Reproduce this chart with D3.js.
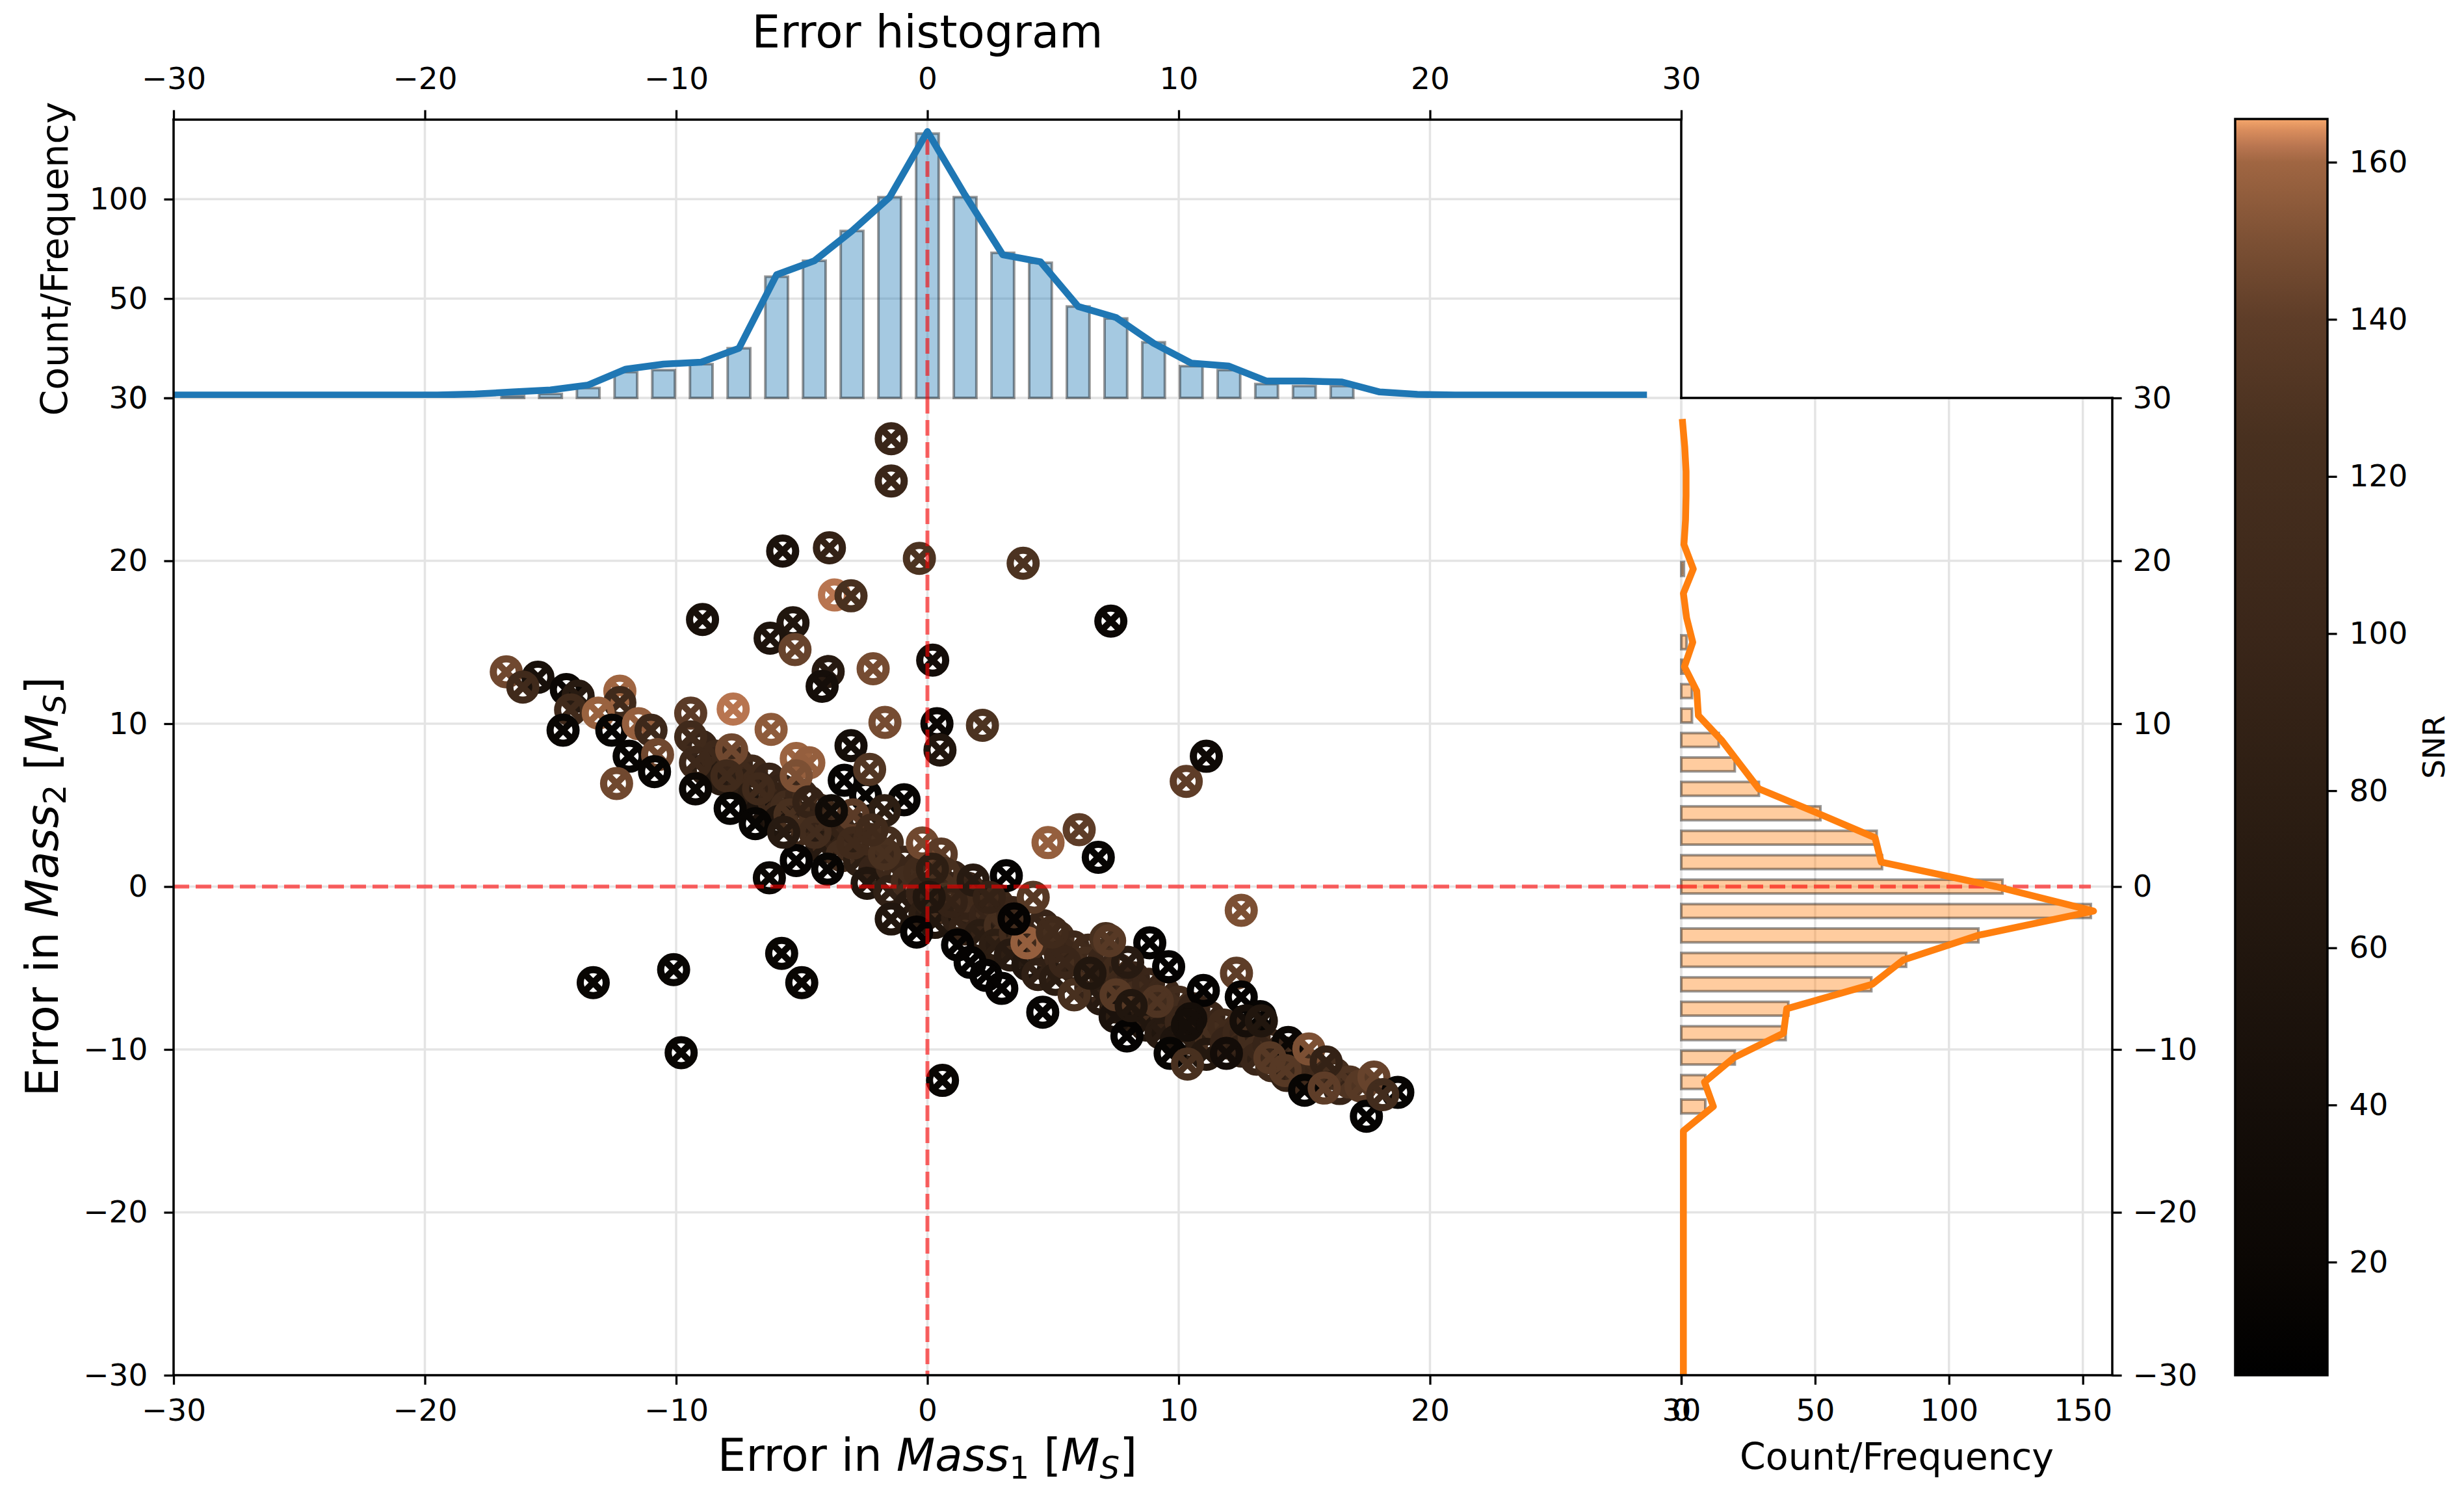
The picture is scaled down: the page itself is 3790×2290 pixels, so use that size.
<!DOCTYPE html>
<html>
<head>
<meta charset="utf-8">
<script src="https://cdn.jsdelivr.net/npm/d3@7"></script>
<style>
  body { margin: 0; background: #fff; }
  svg { display: block; font-family: "DejaVu Sans", sans-serif; }
</style>
</head>
<body>
<svg id="chart"></svg>
<script>
// histogram bins (left edges, width 1.5)
const binStarts = [-30, -28.5, -27, -25.5, -24, -22.5, -21, -19.5, -18, -16.5, -15, -13.5, -12, -10.5, -9, -7.5,
  -6, -4.5, -3, -1.5, 0, 1.5, 3, 4.5, 6, 7.5, 9, 10.5, 12, 13.5, 15, 16.5, 18, 19.5, 21, 22.5, 24, 25.5, 27, 28.5];

// error in Mass1 histogram (top)
const mass1Bars = [0, 0, 0, 0, 0, 0, 0, 0, 0, 1, 2, 5, 13, 14, 17, 25,
  61, 69, 84, 101, 133, 101, 73, 68, 46, 40, 28, 16, 14, 7, 6, 6, 0, 0, 0, 0, 0, 0, 0, 0];
const mass1Line = [1.5, 1.5, 1.5, 1.5, 1.5, 1.5, 1.5, 1.5, 2, 3, 4, 6.5, 14.5, 17, 18, 25,
  62, 69, 84, 101, 134, 102, 72, 68.5, 46, 40.5, 27.5, 17.5, 16, 8.5, 8.5, 8, 3, 1.8, 1.5, 1.5, 1.5, 1.5, 1.5, 1.5];

// error in Mass2 histogram (right)
const mass2Bars = [0, 0, 0, 0, 0, 0, 0, 0, 0, 0, 0, 9, 9, 20, 39, 40,
  71, 84, 111, 153, 120, 75, 73, 52, 29, 20, 14, 4, 4, 1, 2, 0, 0, 1, 0, 0, 0, 0, 0, 0];
const mass2Line = [0.8, 0.8, 0.8, 0.8, 0.8, 0.8, 0.8, 0.8, 0.8, 0.8, 0.8, 12, 8.7, 19.7, 38.2, 39.4,
  71.3, 83, 110.7, 154, 117.6, 74.7, 72.4, 51, 29, 22, 15, 6.4, 5.8, 1.2, 4.3, 2, 0.8, 4.5, 1, 1.6, 1.8, 1.8, 1.3, 0.5];

// scatter points: [error Mass1, error Mass2, SNR]
const bandCore = [
  [-9.0, 8.6, 95], [-8.8, 7.2, 80], [-8.4, 8.0, 105], [-8.2, 6.6, 70], [-7.6, 7.6, 100], [-7.3, 6.2, 85],
  [-7.0, 7.1, 110], [-6.9, 5.6, 75], [-6.6, 4.6, 50], [-6.3, 6.6, 95], [-6.1, 5.2, 105],
  [-5.8, 5.9, 90], [-5.6, 4.9, 115], [-5.9, 4.0, 60], [-5.0, 5.6, 100], [-4.9, 4.2, 85], [-4.8, 3.0, 110],
  [-4.3, 4.7, 120], [-4.1, 3.6, 95], [-4.2, 2.4, 70], [-3.6, 4.2, 105], [-3.5, 3.0, 90], [-3.4, 1.9, 115],
  [-2.9, 3.6, 100], [-2.7, 1.6, 80], [-2.3, 2.9, 110], [-2.1, 1.0, 95], [-2.4, 0.2, 60],
  [-1.6, 2.7, 120], [-1.4, 1.2, 105], [-1.5, -0.3, 85], [-0.9, 1.5, 100], [-0.8, 0.3, 115], [-0.7, -1.2, 70],
  [-0.3, 0.9, 110], [-0.2, -0.4, 95], [-0.1, -1.7, 80], [0.4, 0.2, 105], [0.5, -1.3, 120], [0.3, -2.2, 60],
  [1.0, 0.6, 95], [1.1, -0.5, 110], [1.2, -1.9, 85], [1.6, -0.1, 100], [1.7, -1.2, 115], [1.5, -2.6, 90],
  [2.2, -0.6, 110], [2.3, -1.8, 95], [2.1, -3.0, 75], [2.8, -1.1, 105], [2.9, -2.4, 120], [2.7, -3.6, 80],
  [3.4, -1.6, 100], [3.5, -2.9, 110], [3.3, -4.2, 70], [4.0, -2.2, 115], [4.1, -3.5, 95], [4.0, -4.8, 60],
  [4.6, -2.4, 95], [4.6, -3.9, 110], [4.4, -5.4, 85], [5.2, -3.1, 120], [5.3, -4.3, 100], [5.1, -5.7, 75],
  [5.8, -3.7, 105], [5.9, -5.0, 90], [6.4, -3.9, 110], [6.5, -6.2, 95], [6.3, -4.7, 120],
  [7.0, -4.6, 100], [7.1, -5.8, 85], [6.9, -6.9, 70], [7.6, -5.1, 110], [7.7, -6.2, 105], [7.5, -7.4, 80],
  [8.2, -5.6, 95], [8.3, -6.8, 115], [8.1, -8.0, 75], [8.8, -6.0, 100], [8.9, -7.3, 110], [8.7, -8.5, 60],
  [9.4, -6.5, 105], [9.5, -7.8, 90], [9.3, -9.0, 70], [10.0, -7.1, 115], [10.1, -8.3, 100], [9.9, -9.5, 55],
  [10.6, -7.5, 95], [10.7, -8.9, 110], [10.5, -9.8, 80], [11.2, -8.0, 100], [11.3, -9.3, 120], [11.1, -10.3, 65],
  [11.8, -8.5, 110], [11.9, -9.6, 95], [12.4, -9.0, 105], [12.5, -10.1, 85], [13.0, -9.2, 115], [13.1, -10.6, 100],
  [13.6, -9.7, 95], [13.7, -11.0, 110], [14.2, -10.2, 100], [14.3, -11.6, 90], [14.8, -10.8, 120], [14.9, -11.8, 105],
  [15.4, -11.3, 110], [16.2, -11.5, 120], [16.4, -12.4, 95], [16.8, -12.0, 130]
];

const bandEdge = [
  [-16.76, 13.18, 146], [-15.5, 12.85, 45], [-16.1, 12.25, 110], [-14.37, 12.1, 20], [-13.9, 11.7, 70],
  [-14.2, 10.85, 110], [-14.5, 9.6, 18], [-12.24, 12.0, 160], [-12.24, 11.3, 110], [-13.1, 10.65, 158],
  [-12.56, 9.6, 15], [-11.5, 10.0, 157], [-11.0, 9.6, 105], [-11.87, 8.0, 15], [-10.74, 8.1, 146],
  [-10.86, 7.06, 15], [-9.42, 10.65, 138], [-9.42, 9.19, 110], [-9.23, 7.6, 105], [-9.23, 6.0, 20],
  [-7.79, 8.39, 146], [-7.98, 6.8, 110], [-7.85, 4.8, 15], [-6.85, 3.86, 15], [-6.72, 6.0, 110],
  [-5.22, 7.86, 159], [-4.72, 7.6, 157], [-5.22, 6.8, 150], [-5.47, 4.4, 125], [-4.72, 5.2, 90],
  [-5.22, 1.6, 12], [-3.97, 1.07, 15], [-3.31, 6.53, 12], [-2.46, 5.6, 15], [-0.93, 5.33, 15],
  [-1.71, 4.66, 80], [-2.96, 4.4, 138], [-1.71, 2.0, 125], [-2.96, 2.67, 110], [-0.2, 2.67, 146],
  [0.55, 2.0, 138], [0.67, 0.8, 125], [-4.47, 3.33, 115], [-5.72, 3.33, 70], [-2.21, 3.47, 110],
  [-3.82, 4.66, 30], [0.2, 1.07, 80], [3.14, 0.67, 12], [4.21, -0.66, 135], [-1.44, -1.99, 60],
  [-0.43, -2.79, 12], [0.95, -0.93, 90], [1.2, -3.58, 12], [1.7, -4.65, 12], [2.33, -5.45, 12],
  [2.96, -6.25, 12], [3.96, -3.45, 157], [3.45, -1.99, 12], [1.82, 0.4, 70], [7.1, -3.19, 125],
  [8.85, -3.45, 12], [9.6, -4.92, 12], [12.3, -5.32, 140], [12.49, -6.78, 12], [10.98, -6.38, 12],
  [13.24, -7.98, 15], [10.48, -8.11, 40], [7.47, -7.98, 50], [5.84, -6.65, 125], [5.47, -4.65, 100],
  [6.47, -5.32, 60], [7.97, -4.65, 70], [4.97, -2.79, 110], [2.46, -0.66, 90], [0.07, -0.66, 60],
  [10.35, -8.51, 40], [7.94, -9.17, 12], [7.51, -6.65, 135], [9.66, -10.24, 15], [9.15, -7.05, 130],
  [11.9, -10.24, 35], [12.68, -8.24, 40], [13.29, -8.24, 60], [14.36, -9.57, 20], [13.63, -10.51, 135],
  [14.24, -11.3, 135], [15.18, -9.97, 150], [15.87, -10.77, 90], [15.01, -12.5, 15], [15.79, -12.37, 140],
  [17.25, -12.24, 135], [17.77, -11.7, 143], [18.72, -12.63, 15], [17.47, -14.1, 12], [18.12, -12.77, 115],
  [10.35, -10.9, 125], [8.11, -7.31, 60], [7.25, -3.32, 135]
];

const outliers = [
  [-1.44, 27.5, 100], [-1.44, 24.9, 100], [-5.76, 20.6, 50], [-3.9, 20.8, 90], [-0.32, 20.15, 128],
  [3.81, 19.85, 128], [-3.7, 17.9, 162], [-3.04, 17.85, 125], [-8.95, 16.4, 45], [-5.35, 16.2, 60],
  [-6.26, 15.25, 55], [-5.27, 14.55, 143], [-3.95, 13.2, 70], [-4.19, 12.3, 40], [-2.16, 13.37, 148],
  [0.21, 13.9, 38], [-1.69, 10.08, 148], [0.38, 10.0, 20], [0.5, 8.38, 60], [2.19, 9.9, 128],
  [-3.04, 8.65, 40], [-2.3, 7.2, 132], [7.3, 16.3, 20], [6.04, 3.49, 140], [4.8, 2.7, 157],
  [6.8, 1.8, 15], [10.3, 6.46, 140], [11.1, 8.0, 28], [12.49, -1.46, 150], [-6.29, 0.54, 20],
  [-13.3, -5.9, 18], [-10.1, -5.1, 18], [-5.8, -4.1, 18], [-5.0, -5.9, 18], [-9.8, -10.2, 18],
  [0.6, -11.9, 18], [4.59, -7.71, 15], [-7.73, 10.9, 162], [-6.22, 9.65, 155], [-12.37, 6.33, 146]
];

// tick values
const errTicks = [-30, -20, -10, 0, 10, 20, 30];
const topCountTicks = [0, 50, 100];
const rightCountTicks = [0, 50, 100, 150];
const snrTicks = [20, 40, 60, 80, 100, 120, 140, 160];

// colour map
const snrStops = [5.6, 20, 40, 60, 80, 100, 125, 140, 150, 160, 162, 164, 165.5];
const snrColors = ["#000000", "#0b0704", "#150e09", "#21160e", "#2d1e13", "#3a2619", "#48301f",
  "#5e3d28", "#7c5034", "#a06642", "#b87550", "#d88c5c", "#f5a66b"];

const W = 3790, H = 2290;
const main = { left: 267, right: 2586, top: 612, bottom: 2115 };
const histTop = 184, histRight = 3249;
const cbar = { left: 3438, right: 3580, top: 183, bottom: 2115 };
const tickFont = 47, labelFont = 69, countFont = 57;

const svg = d3.select("#chart").attr("width", W).attr("height", H);
svg.append("rect").attr("width", W).attr("height", H).attr("fill", "#fff");

const x = d3.scaleLinear().domain([-30, 30]).range([main.left, main.right]);
const y = d3.scaleLinear().domain([-30, 30]).range([main.bottom, main.top]);
const hy = d3.scaleLinear().domain([0, 140]).range([main.top, histTop]);
const hx = d3.scaleLinear().domain([0, 161]).range([main.right, histRight]);
const cb = d3.scaleLinear().domain([5.6, 165.5]).range([cbar.bottom, cbar.top]);
const copper = d3.scaleLinear().domain(snrStops).range(snrColors).clamp(true);

const defs = svg.append("defs");
defs.append("clipPath").attr("id", "clipTop").append("rect")
  .attr("x", main.left).attr("y", histTop).attr("width", main.right - main.left).attr("height", main.top - histTop);
defs.append("clipPath").attr("id", "clipRight").append("rect")
  .attr("x", main.right - 8).attr("y", main.top).attr("width", histRight - main.right + 8).attr("height", main.bottom - main.top);

const gridColor = "#e4e4e4";
function vgrid(vals, sx, y0, y1) {
  svg.append("g").selectAll("line").data(vals).join("line")
    .attr("x1", d => sx(d)).attr("x2", d => sx(d)).attr("y1", y0).attr("y2", y1)
    .attr("stroke", gridColor).attr("stroke-width", 3.5);
}
function hgrid(vals, sy, x0, x1) {
  svg.append("g").selectAll("line").data(vals).join("line")
    .attr("y1", d => sy(d)).attr("y2", d => sy(d)).attr("x1", x0).attr("x2", x1)
    .attr("stroke", gridColor).attr("stroke-width", 3.5);
}

// grids
vgrid(errTicks, x, main.top, main.bottom);
hgrid(errTicks, y, main.left, main.right);
vgrid(errTicks, x, histTop, main.top);
hgrid(topCountTicks, hy, main.left, main.right);
vgrid(rightCountTicks, hx, main.top, main.bottom);
hgrid(errTicks, y, main.right, histRight);

// ---- top histogram
const topData = binStarts.map((p, i) => ({ pos: p, bar: mass1Bars[i], line: mass1Line[i] }));
const barW = 0.9;
svg.append("g").selectAll("rect").data(topData.filter(d => d.bar > 0)).join("rect")
  .attr("x", d => x(d.pos - barW / 2)).attr("width", x(barW) - x(0))
  .attr("y", d => hy(d.bar)).attr("height", d => hy(0) - hy(d.bar))
  .attr("fill", "#1f77b4").attr("fill-opacity", 0.4)
  .attr("stroke", "#000").attr("stroke-opacity", 0.4).attr("stroke-width", 4);
svg.append("line").attr("x1", x(0)).attr("x2", x(0)).attr("y1", hy(0)).attr("y2", hy(133))
  .attr("stroke", "red").attr("stroke-opacity", 0.6).attr("stroke-width", 6).attr("stroke-dasharray", "24,10");
svg.append("path").datum(topData).attr("clip-path", "url(#clipTop)")
  .attr("d", d3.line().x(d => x(d.pos)).y(d => hy(d.line)))
  .attr("fill", "none").attr("stroke", "#1f77b4").attr("stroke-width", 10.5)
  .attr("stroke-linejoin", "round").attr("stroke-linecap", "square");

// ---- right histogram
const rightData = binStarts.map((p, i) => ({ pos: p, bar: mass2Bars[i], line: mass2Line[i] }));
const barH = 0.85;
svg.append("g").selectAll("rect").data(rightData.filter(d => d.bar > 0)).join("rect")
  .attr("x", hx(0)).attr("width", d => hx(d.bar) - hx(0))
  .attr("y", d => y(d.pos + barH / 2)).attr("height", y(0) - y(barH))
  .attr("fill", "#ff7f0e").attr("fill-opacity", 0.4)
  .attr("stroke", "#000").attr("stroke-opacity", 0.4).attr("stroke-width", 4);
svg.append("line").attr("y1", y(0)).attr("y2", y(0)).attr("x1", hx(0)).attr("x2", hx(153))
  .attr("stroke", "red").attr("stroke-opacity", 0.6).attr("stroke-width", 6).attr("stroke-dasharray", "24,10");
svg.append("path").datum(rightData).attr("clip-path", "url(#clipRight)")
  .attr("d", d3.line().x(d => hx(d.line)).y(d => y(d.pos)))
  .attr("fill", "none").attr("stroke", "#ff7f0e").attr("stroke-width", 10.5)
  .attr("stroke-linejoin", "round").attr("stroke-linecap", "square");

// ---- scatter with otimes markers
const points = bandCore.concat(bandEdge, outliers);
const marks = svg.append("g").selectAll("g").data(points).join("g")
  .attr("transform", d => `translate(${x(d[0])},${y(d[1])})`);
marks.append("circle").attr("r", 20).attr("fill", "none")
  .attr("stroke", d => copper(d[2])).attr("stroke-width", 11);
marks.append("path").attr("d", "M-14,-14L14,14M-14,14L14,-14").attr("fill", "none")
  .attr("stroke", d => copper(d[2])).attr("stroke-width", 10);

// zero lines
svg.append("line").attr("x1", x(0)).attr("x2", x(0)).attr("y1", main.top).attr("y2", main.bottom)
  .attr("stroke", "red").attr("stroke-opacity", 0.6).attr("stroke-width", 6).attr("stroke-dasharray", "24,10");
svg.append("line").attr("y1", y(0)).attr("y2", y(0)).attr("x1", main.left).attr("x2", main.right)
  .attr("stroke", "red").attr("stroke-opacity", 0.6).attr("stroke-width", 6).attr("stroke-dasharray", "24,10");

// ---- colour bar
const grad = defs.append("linearGradient").attr("id", "snrGrad")
  .attr("x1", 0).attr("y1", 1).attr("x2", 0).attr("y2", 0);
grad.selectAll("stop").data(snrStops).join("stop")
  .attr("offset", d => (d - 5.6) / (165.5 - 5.6))
  .attr("stop-color", (d, i) => snrColors[i]);
svg.append("rect").attr("x", cbar.left).attr("y", cbar.top)
  .attr("width", cbar.right - cbar.left).attr("height", cbar.bottom - cbar.top)
  .attr("fill", "url(#snrGrad)").attr("stroke", "#000").attr("stroke-width", 3.5);

// ---- axes
function styleAxis(g) {
  g.select(".domain").remove();
  g.selectAll(".tick line").attr("stroke", "#000").attr("stroke-width", 3.3);
  g.selectAll(".tick text").attr("fill", "#000").attr("font-size", tickFont)
    .attr("font-family", "DejaVu Sans");
}
const tick = 14.6;
svg.append("g").attr("transform", `translate(0,${main.bottom})`)
  .call(d3.axisBottom(x).tickValues(errTicks).tickSize(tick).tickPadding(22)).call(styleAxis);
svg.append("g").attr("transform", `translate(${main.left},0)`)
  .call(d3.axisLeft(y).tickValues(errTicks).tickSize(tick).tickPadding(25)).call(styleAxis);
svg.append("g").attr("transform", `translate(0,${histTop})`)
  .call(d3.axisTop(x).tickValues(errTicks).tickSize(tick).tickPadding(32)).call(styleAxis);
svg.append("g").attr("transform", `translate(${main.left},0)`)
  .call(d3.axisLeft(hy).tickValues(topCountTicks).tickSize(tick).tickPadding(25)).call(styleAxis);
svg.append("g").attr("transform", `translate(0,${main.bottom})`)
  .call(d3.axisBottom(hx).tickValues(rightCountTicks).tickSize(tick).tickPadding(22)).call(styleAxis);
svg.append("g").attr("transform", `translate(${histRight},0)`)
  .call(d3.axisRight(y).tickValues(errTicks).tickSize(tick).tickPadding(17)).call(styleAxis);
svg.append("g").attr("transform", `translate(${cbar.right},0)`)
  .call(d3.axisRight(cb).tickValues(snrTicks).tickSize(tick).tickPadding(19)).call(styleAxis);

// ---- spines
const spines = [
  [main.left, histTop, main.right, histTop],
  [main.left, histTop, main.left, main.bottom],
  [main.right, histTop, main.right, main.top],
  [main.left, main.bottom, histRight, main.bottom],
  [main.right, main.top, histRight, main.top],
  [histRight, main.top, histRight, main.bottom]
];
svg.append("g").selectAll("line").data(spines).join("line")
  .attr("x1", d => d[0]).attr("y1", d => d[1]).attr("x2", d => d[2]).attr("y2", d => d[3])
  .attr("stroke", "#000").attr("stroke-width", 3.5).attr("stroke-linecap", "square");

// ---- labels
svg.append("text").attr("x", x(0)).attr("y", 73).attr("text-anchor", "middle")
  .attr("font-size", labelFont).text("Error histogram");

function massLabel(sel, idx) {
  sel.append("tspan").text("Error in ");
  sel.append("tspan").attr("font-style", "italic").text("Mass");
  sel.append("tspan").attr("font-size", labelFont * 0.7).attr("dy", 12).text(idx);
  sel.append("tspan").attr("dy", -12).text(" [");
  sel.append("tspan").attr("font-style", "italic").text("M");
  sel.append("tspan").attr("font-size", labelFont * 0.7).attr("font-style", "italic").attr("dy", 12).text("S");
  sel.append("tspan").attr("dy", -12).text("]");
}
svg.append("text").attr("x", x(0)).attr("y", 2262).attr("text-anchor", "middle")
  .attr("font-size", labelFont).call(massLabel, "1");
svg.append("text").attr("transform", `translate(89,${y(0)}) rotate(-90)`).attr("text-anchor", "middle")
  .attr("font-size", labelFont).call(massLabel, "2");

svg.append("text").attr("transform", `translate(104,${(histTop + main.top) / 2}) rotate(-90)`)
  .attr("text-anchor", "middle").attr("font-size", countFont).text("Count/Frequency");
svg.append("text").attr("x", (main.right + histRight) / 2).attr("y", 2260)
  .attr("text-anchor", "middle").attr("font-size", countFont).text("Count/Frequency");
svg.append("text").attr("transform", `translate(3760,${(cbar.top + cbar.bottom) / 2}) rotate(-90)`)
  .attr("text-anchor", "middle").attr("font-size", tickFont).text("SNR");
</script>
</body>
</html>
